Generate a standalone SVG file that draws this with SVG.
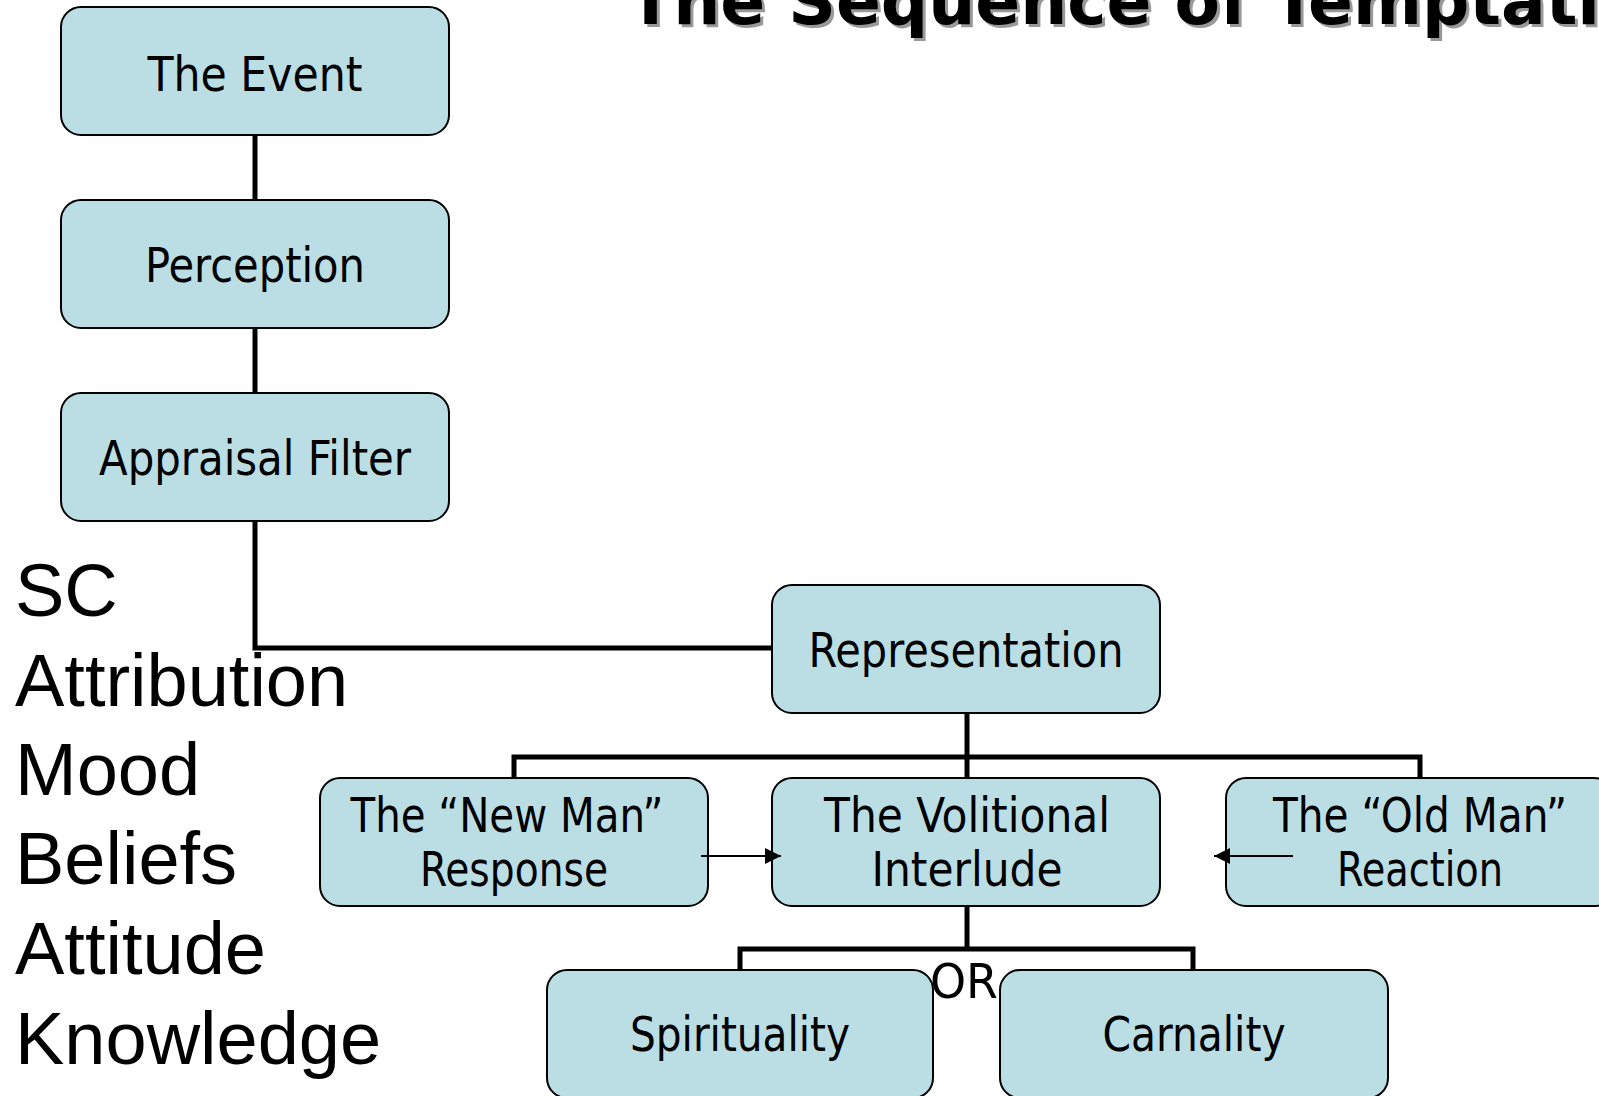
<svg xmlns="http://www.w3.org/2000/svg" width="1599" height="1096" viewBox="0 0 1599 1096">
<style>
.box{fill:#BBDEE4;stroke:#000;stroke-width:2}
.lbl{font-family:"DejaVu Sans Condensed","DejaVu Sans",sans-serif;font-stretch:condensed;font-size:48px;fill:#000;text-anchor:middle}
.list{font-family:"Liberation Sans",Arial,sans-serif;font-size:74px;fill:#000}
.conn{fill:none;stroke:#000;stroke-width:5;stroke-linejoin:miter;stroke-linecap:butt}
.thin{fill:none;stroke:#000;stroke-width:2}
.title{font-family:"DejaVu Sans",sans-serif;font-weight:bold;font-size:66px}
</style>
<defs>
<marker id="ah" markerUnits="userSpaceOnUse" markerWidth="18" markerHeight="16" refX="16" refY="8" orient="auto">
<path d="M0,0 L16,8 L0,16 Z" fill="#000"/>
</marker>
</defs>
<rect width="1599" height="1096" fill="#fff"/>
<g id="title">
<text class="title" x="631" y="27" fill="#999" textLength="972" lengthAdjust="spacingAndGlyphs">The Sequence of Temptati</text>
<text class="title" x="628" y="24" fill="#000" textLength="972" lengthAdjust="spacingAndGlyphs">The Sequence of Temptati</text>
</g>
<g id="list">
<text class="list" x="15" y="616">SC</text>
<text class="list" x="15" y="706">Attribution</text>
<text class="list" x="15" y="795">Mood</text>
<text class="list" x="15" y="884">Beliefs</text>
<text class="list" x="15" y="974">Attitude</text>
<text class="list" x="15" y="1064">Knowledge</text>
</g>
<g id="connectors">
<path class="conn" d="M255,135 V200"/>
<path class="conn" d="M255,328 V393"/>
<path class="conn" d="M255,521 V648 H772"/>
<path class="conn" d="M967,713 V757"/>
<path class="conn" d="M514,778 V757 H1420 V778"/>
<path class="conn" d="M967,757 V778"/>
<path class="conn" d="M967,906 V949"/>
<path class="conn" d="M740,970 V949 H1193 V970"/>
</g>
<text id="or" class="lbl" x="964" y="998" style="font-stretch:normal" textLength="68" lengthAdjust="spacingAndGlyphs">OR</text>
<g id="n-event"><rect class="box" x="61" y="7" width="388" height="128" rx="20"/><text class="lbl" x="255" y="91" textLength="215" lengthAdjust="spacingAndGlyphs">The Event</text></g>
<g id="n-perception"><rect class="box" x="61" y="200" width="388" height="128" rx="20"/><text class="lbl" x="255" y="282" textLength="220" lengthAdjust="spacingAndGlyphs">Perception</text></g>
<g id="n-appraisal"><rect class="box" x="61" y="393" width="388" height="128" rx="20"/><text class="lbl" x="255" y="475" textLength="312" lengthAdjust="spacingAndGlyphs">Appraisal Filter</text></g>
<g id="n-representation"><rect class="box" x="772" y="585" width="388" height="128" rx="20"/><text class="lbl" x="966" y="667" textLength="315" lengthAdjust="spacingAndGlyphs">Representation</text></g>
<g id="n-newman"><rect class="box" x="320" y="778" width="388" height="128" rx="20"/><text class="lbl" x="507" y="832" textLength="313" lengthAdjust="spacingAndGlyphs">The “New Man”</text><text class="lbl" x="514" y="886" textLength="188" lengthAdjust="spacingAndGlyphs">Response</text></g>
<g id="n-volitional"><rect class="box" x="772" y="778" width="388" height="128" rx="20"/><text class="lbl" x="967" y="832" textLength="286" lengthAdjust="spacingAndGlyphs">The Volitional</text><text class="lbl" x="967" y="886" textLength="191" lengthAdjust="spacingAndGlyphs">Interlude</text></g>
<g id="n-oldman"><rect class="box" x="1226" y="778" width="388" height="128" rx="20"/><text class="lbl" x="1420" y="832" textLength="294" lengthAdjust="spacingAndGlyphs">The “Old Man”</text><text class="lbl" x="1420" y="886" textLength="166" lengthAdjust="spacingAndGlyphs">Reaction</text></g>
<g id="n-spirituality"><rect class="box" x="547" y="970" width="386" height="128" rx="20"/><text class="lbl" x="740" y="1051" textLength="220" lengthAdjust="spacingAndGlyphs">Spirituality</text></g>
<g id="n-carnality"><rect class="box" x="1000" y="970" width="388" height="128" rx="20"/><text class="lbl" x="1194" y="1051" textLength="183" lengthAdjust="spacingAndGlyphs">Carnality</text></g>
<g id="arrows">
<line class="thin" x1="701" y1="856" x2="781" y2="856" marker-end="url(#ah)"/>
<line class="thin" x1="1293" y1="856" x2="1214" y2="856" marker-end="url(#ah)"/>
</g>
</svg>
